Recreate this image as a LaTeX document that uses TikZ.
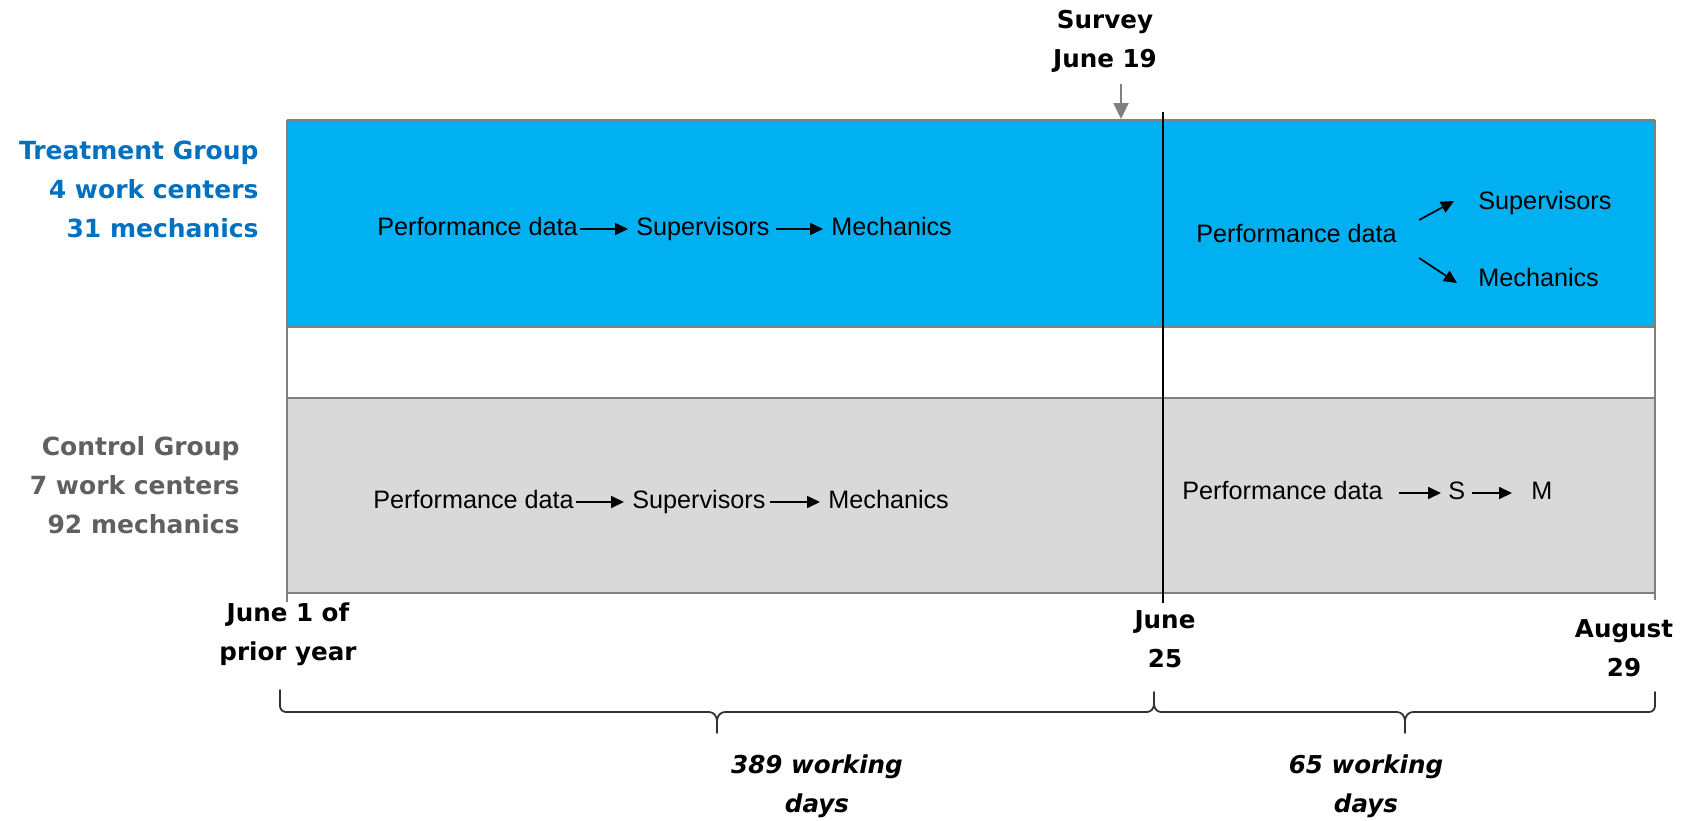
\documentclass[tikz,border=0pt]{standalone}
\usepackage{fontspec}
\setmainfont{Liberation Sans}
\newfontfamily\verdana{DejaVu Sans}
\usetikzlibrary{arrows.meta}

\definecolor{treatblue}{RGB}{0,176,240}
\definecolor{labelblue}{RGB}{0,112,192}
\definecolor{ctrlgray}{RGB}{217,217,217}
\definecolor{labelgray}{RGB}{96,96,96}
\definecolor{edgegray}{RGB}{128,128,128}

\tikzset{
  flow/.style={anchor=west, inner sep=1pt, text height=9pt, text depth=2.5pt,
    font=\fontsize{12.6}{15}\selectfont},
  flowarrow/.style={-{Triangle[length=6.5pt,width=6pt]}, line width=0.85pt},
  grouplabel/.style={anchor=east, align=right, inner sep=0pt,
    font=\verdana\bfseries\fontsize{12.5}{19.5}\selectfont},
  datelabel/.style={align=center, inner sep=0pt,
    font=\verdana\bfseries\fontsize{12.3}{19.5}\selectfont},
  spanlabel/.style={align=center, inner sep=0pt,
    font=\verdana\bfseries\itshape\fontsize{12.3}{19.5}\selectfont},
  spanbrace/.style={line width=0.9pt, draw=black!80, line cap=round},
  frame/.style={draw=edgegray, line width=1.2pt}
}

\begin{document}
\begin{tikzpicture}[x=0.5pt,y=-0.5pt]
  \useasboundingbox (0,0) rectangle (1704,820);

  % the two group bands
  \fill[treatblue] (287,120) rectangle (1655,327);
  \fill[ctrlgray]  (287,398) rectangle (1655,593);
  \draw[frame] (287,120) -- (1655,120);
  \draw[frame] (287,327) -- (1655,327);
  \draw[frame] (287,398) -- (1655,398);
  \draw[frame] (287,593) -- (1655,593);
  \draw[frame] (287,120) -- (287,602);
  \draw[frame] (1655,120) -- (1655,600);

  % switch date
  \draw[line width=0.8pt] (1163,112) -- (1163,603);

  % survey marker
  \node[datelabel] (survey) at (1105,41) {Survey\\June 19};
  \coordinate (surveytop) at (1121,84);
  \coordinate (surveymark) at (1121,119);
  \draw[edgegray, line width=1.1pt, -{Triangle[length=8pt,width=7.5pt]}] (surveytop) -- (surveymark);

  % group labels
  \node[grouplabel, text=labelblue] (treat) at (259,189) {Treatment Group\\4 work centers\\31 mechanics};
  \node[grouplabel, text=labelgray] (ctrl) at (240,485) {Control Group\\7 work centers\\92 mechanics};

  % treatment, before
  \node[flow] (pdA) at (375,229) {Performance data};
  \node[flow] (supA) at (634,229) {Supervisors};
  \node[flow] (mechA) at (829,229) {Mechanics};
  \draw[flowarrow, shorten >=3pt] (pdA.east) -- (supA.west);
  \draw[flowarrow, shorten <=2pt, shorten >=3pt] (supA.east) -- (mechA.west);

  % treatment, after
  \node[flow] (pdB) at (1194,236) {Performance data};
  \node[flow] (supB) at (1476,203) {Supervisors};
  \node[flow] (mechB) at (1476,280) {Mechanics};
  \draw[flowarrow] ([shift={(10pt,8pt)}]pdB.east) -- ([shift={(-11pt,1pt)}]supB.west);
  \draw[flowarrow] ([shift={(10pt,-11pt)}]pdB.east) -- ([shift={(-9.5pt,-1.5pt)}]mechB.west);

  % control, before
  \node[flow] (pdC) at (371,502) {Performance data};
  \node[flow] (supC) at (630,502) {Supervisors};
  \node[flow] (mechC) at (826,502) {Mechanics};
  \draw[flowarrow, shorten >=3pt] (pdC.east) -- (supC.west);
  \draw[flowarrow, shorten <=1pt, shorten >=3pt] (supC.east) -- (mechC.west);

  % control, after
  \node[flow] (pdD) at (1180,493) {Performance data};
  \node[flow] (sD) at (1446,493) {S};
  \node[flow] (mD) at (1529,493) {M};
  \draw[flowarrow, shorten <=7pt, shorten >=2.5pt] (pdD.east) -- (sD.west);
  \draw[flowarrow, shorten <=2pt, shorten >=8.5pt] (sD.east) -- (mD.west);

  % dates on the axis
  \node[datelabel] (start) at (288,634) {June 1 of\\prior year};
  \node[datelabel] (switch) at (1165,639) {June\\25};
  \node[datelabel] (finish) at (1624,648) {August\\29};

  % working day spans
  \draw[spanbrace] (280,690) -- (280,706) to[out=-90,in=180] (286,712) -- (709,712)
    to[out=0,in=90] (717,721) -- (717,733);
  \draw[spanbrace] (717,721) to[out=90,in=180] (725,712) -- (1147,712)
    to[out=0,in=-90] (1154,704) -- (1154,692);
  \draw[spanbrace] (1154,704) to[out=-90,in=180] (1161,712) -- (1397,712)
    to[out=0,in=90] (1405,721) -- (1405,733);
  \draw[spanbrace] (1405,721) to[out=90,in=180] (1413,712) -- (1649,712)
    to[out=0,in=-90] (1655,706) -- (1655,692);
  \node[spanlabel] (before) at (817,786) {389 working\\days};
  \node[spanlabel] (after) at (1366,786) {65 working\\days};
\end{tikzpicture}
\end{document}
